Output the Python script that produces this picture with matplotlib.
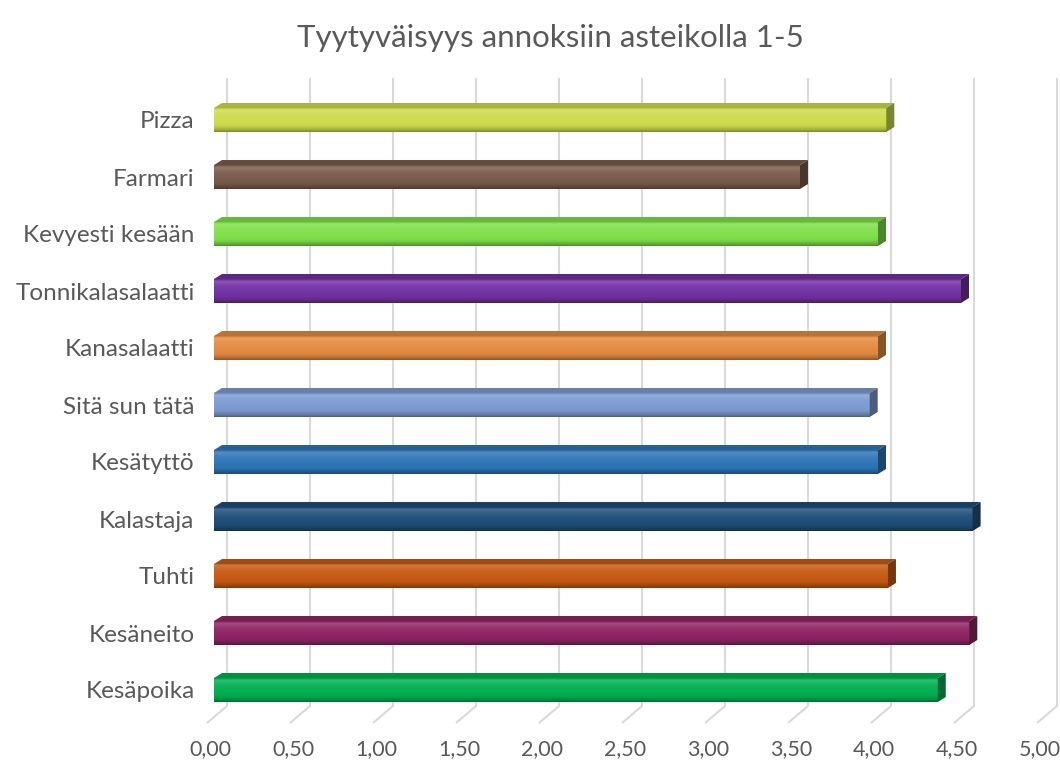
import numpy as np
import matplotlib
matplotlib.use("Agg")
import matplotlib.pyplot as plt
from matplotlib.patches import Polygon
from matplotlib.colors import to_rgb
from matplotlib.transforms import ScaledTranslation

# Survey results: mean satisfaction per dish on a 1-5 scale
dishes = ["Pizza", "Farmari", "Kevyesti kesään", "Tonnikalasalaatti", "Kanasalaatti",
          "Sitä sun tätä", "Kesätyttö", "Kalastaja", "Tuhti", "Kesäneito", "Kesäpoika"]
scores = [4.05, 3.53, 4.00, 4.50, 4.00, 3.95, 4.00, 4.57, 4.06, 4.55, 4.36]
bar_colors = ["#CDDC4C", "#7B5B49", "#7FE04A", "#7231A2", "#E48B42", "#7C9BD2",
              "#2E75B6", "#1F4E79", "#C65A12", "#8E2463", "#00B050"]
tick_values = [0.0, 0.5, 1.0, 1.5, 2.0, 2.5, 3.0, 3.5, 4.0, 4.5, 5.0]
tick_labels = ["0,00", "0,50", "1,00", "1,50", "2,00", "2,50", "3,00", "3,50", "4,00", "4,50", "5,00"]
title = "Tyytyväisyys annoksiin asteikolla 1-5"

W, H, DPI = 1060, 764, 100
text_gray = "#595959"
plt.rcParams['font.family'] = ['Lato', 'DejaVu Sans']

fig = plt.figure(figsize=(W / DPI, H / DPI), dpi=DPI)

# axes geometry (pixels): x=0 at 214, 166 px per unit; rows 57 px apart
x0_px, px_unit = 214, 166.0
row0_px, row_px = 120, 57.0
ax_top_px, ax_bot_px = 60, 725
ax = fig.add_axes([x0_px / W, 1 - ax_bot_px / H, px_unit * 5 / W, (ax_bot_px - ax_top_px) / H])
ax.set_xlim(0, 5)
ylim = ((ax_bot_px - row0_px) / row_px, (ax_top_px - row0_px) / row_px)
ax.set_ylim(*ylim)
for s in ax.spines.values():
    s.set_visible(False)

# depth offsets converted to data units
def dxu(px):
    return px / px_unit

def dyu(px):
    return px / row_px

# back wall gridlines with slanted floor segments
wall_dx = dxu(13)
wall_top, wall_bot = dyu(78 - row0_px), dyu(706 - row0_px)
floor_dx, floor_y = dxu(-7), dyu(723 - row0_px)
for v in tick_values:
    ax.plot([v + wall_dx, v + wall_dx, v + floor_dx], [wall_top, wall_bot, floor_y],
            color="#D9D9D9", lw=1.5, solid_capstyle="butt", zorder=1, clip_on=False)

# 3D bars: gradient front face, top face and end cap
bar_h = dyu(24)
depth_dx, depth_dy = dxu(8), dyu(-5)

def shade(c, f):
    c = np.array(to_rgb(c))
    if f >= 1:
        return c + (1 - c) * (f - 1)
    return c * f

ypos = np.arange(len(dishes))
bars = ax.barh(ypos, scores, height=bar_h, color=bar_colors, zorder=3, linewidth=0)
for y, v, c, patch in zip(ypos, scores, bar_colors, bars):
    top, bot = y - bar_h / 2, y + bar_h / 2
    t = np.linspace(0, 1, 60)
    prof = np.interp(t, [0, 0.08, 0.3, 0.75, 0.9, 1.0], [0.88, 1.18, 1.06, 0.97, 0.8, 0.62])
    grad = np.array([shade(c, f) for f in prof]).clip(0, 1)[:, None, :]
    im = ax.imshow(grad, extent=(0, v, bot, top), origin="upper", aspect="auto",
                   zorder=4, interpolation="bilinear")
    im.set_clip_path(patch)
    top_face = Polygon([(0, top), (v, top), (v + depth_dx, top + depth_dy), (depth_dx, top + depth_dy)],
                       closed=True, facecolor=shade(c, 0.82), edgecolor="none", zorder=4)
    cap = Polygon([(v, top), (v + depth_dx, top + depth_dy), (v + depth_dx, bot + depth_dy), (v, bot)],
                  closed=True, facecolor=shade(c, 0.6), edgecolor="none", zorder=4)
    ax.add_patch(top_face)
    ax.add_patch(cap)

ax.set_xlim(0, 5)
ax.set_ylim(*ylim)

# category labels
ax.set_yticks(ypos)
ax.set_yticklabels(dishes, fontsize=17.5, color=text_gray)
ax.tick_params(axis="y", length=0, pad=14)

# value axis labels on the front edge of the floor
ax.set_xticks(tick_values)
ax.set_xticklabels(tick_labels, fontsize=15.5, color=text_gray)
ax.tick_params(axis="x", length=0, pad=10)
for lab in ax.get_xticklabels():
    lab.set_transform(lab.get_transform() + ScaledTranslation(-4 / DPI, 0, fig.dpi_scale_trans))

fig.text(550 / W, 1 - 38 / H, title, ha="center", va="center", fontsize=22.5, color=text_gray)

fig.savefig("out.png", dpi=DPI)
